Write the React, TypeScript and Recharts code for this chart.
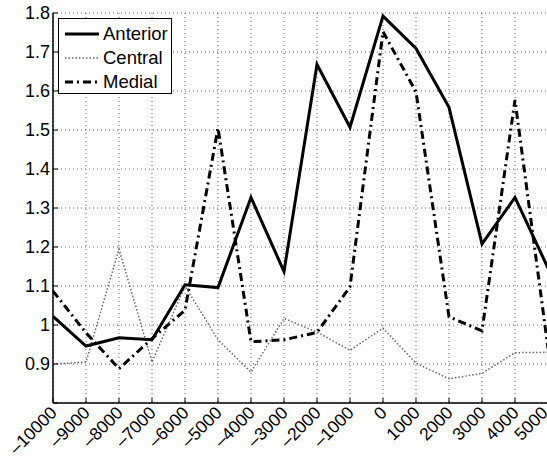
import React from "react";
import { LineChart, Line, XAxis, YAxis, CartesianGrid, Legend } from "recharts";

const positions = [
  -10000, -9000, -8000, -7000, -6000, -5000, -4000, -3000, -2000, -1000, 0, 1000, 2000, 3000, 4000, 5000,
];
const anterior = [1.022, 0.946, 0.967, 0.962, 1.103, 1.096, 1.327, 1.137, 1.668, 1.507, 1.792, 1.709, 1.558, 1.208, 1.327, 1.146];
const central = [0.9, 0.905, 1.195, 0.905, 1.1, 0.962, 0.879, 1.017, 0.982, 0.935, 0.992, 0.902, 0.862, 0.876, 0.929, 0.93];
const medial = [1.087, 0.98, 0.888, 0.965, 1.038, 1.505, 0.957, 0.962, 0.981, 1.098, 1.752, 1.598, 1.021, 0.985, 1.577, 0.94];
const yTicks = [0.8, 0.9, 1.0, 1.1, 1.2, 1.3, 1.4, 1.5, 1.6, 1.7, 1.8];

const data = positions.map((p, i) => ({
  pos: p,
  anterior: anterior[i],
  central: central[i],
  medial: medial[i],
}));

const FONT = "'Liberation Sans', Arial, Helvetica, sans-serif";
const TICK = 5;
const LAST = positions[positions.length - 1];

// MATLAB-style: minus as en dash, labels rotated 45 degrees ending at the tick
const fmtX = (v: number) => (v < 0 ? "\u2013" + Math.abs(v) : String(v));
const fmtY = (v: number) => (Math.abs(v - 1) < 1e-9 ? "1" : v.toFixed(1));

const BottomTick = (props: any) => {
  const { x, y, payload } = props;
  // the rightmost label sits a little inside the frame edge
  const ax = payload.value === LAST ? x - 8 : x - 4;
  return (
    <g>
      <line x1={x} y1={y} x2={x} y2={y - TICK} stroke="#000" strokeWidth={1} />
      <text
        transform={`translate(${ax},${y + 2}) rotate(-45)`}
        textAnchor="end"
        dy="0.72em"
        fontSize={17.5}
        fontFamily={FONT}
        fill="#000"
      >
        {fmtX(payload.value)}
      </text>
    </g>
  );
};

const TopTick = (props: any) => {
  const { x, y } = props;
  return <line x1={x} y1={y} x2={x} y2={y + TICK} stroke="#000" strokeWidth={1} />;
};

const LeftTick = (props: any) => {
  const { x, y, payload } = props;
  return (
    <g>
      <line x1={x} y1={y} x2={x + TICK} y2={y} stroke="#000" strokeWidth={1} />
      {payload.value > 0.85 && (
        <text x={x - 3} y={y} dy="0.36em" textAnchor="end" fontSize={18} fontFamily={FONT} fill="#000">
          {fmtY(payload.value)}
        </text>
      )}
    </g>
  );
};

const RightTick = (props: any) => {
  const { x, y } = props;
  return <line x1={x} y1={y} x2={x - TICK} y2={y} stroke="#000" strokeWidth={1} />;
};

const legendItems = [
  { name: "Anterior", dash: undefined, color: "#000", width: 3 },
  { name: "Central", dash: "1.5 2", color: "#666", width: 1.5 },
  { name: "Medial", dash: "8 4 2 4", color: "#000", width: 3 },
];

const LegendBox = () => (
  <div
    style={{
      width: 114,
      height: 76,
      border: "1px solid #000",
      background: "#fff",
      boxSizing: "border-box",
      fontFamily: FONT,
      fontSize: 18.5,
      color: "#000",
      paddingTop: 3,
    }}
  >
    {legendItems.map((it) => (
      <div key={it.name} style={{ display: "flex", alignItems: "center", height: 24 }}>
        <svg width={40} height={10} style={{ marginLeft: 4 }}>
          <line x1={2} y1={5} x2={36} y2={5} stroke={it.color} strokeWidth={it.width} strokeDasharray={it.dash} />
        </svg>
        <span style={{ lineHeight: "24px" }}>{it.name}</span>
      </div>
    ))}
  </div>
);

export default function App() {
  return (
    <div
      style={{
        position: "absolute",
        left: 0,
        top: 0,
        width: 547,
        height: 460,
        overflow: "hidden",
        background: "#fff",
      }}
    >
      <LineChart width={552} height={460} data={data} margin={{ top: 13, right: 4, bottom: 0, left: 0 }}>
        <CartesianGrid stroke="#666" strokeDasharray="1 3" strokeWidth={1} />
        <XAxis
          dataKey="pos"
          height={57}
          padding={{ left: 0, right: 0 }}
          interval={0}
          tickSize={0}
          tickMargin={0}
          tickLine={false}
          axisLine={{ stroke: "#000", strokeWidth: 1.5 }}
          tick={<BottomTick />}
        />
        <XAxis
          xAxisId="top"
          dataKey="pos"
          orientation="top"
          height={0}
          interval={0}
          tickSize={0}
          tickMargin={0}
          tickLine={false}
          axisLine={{ stroke: "#000", strokeWidth: 1.5 }}
          tick={<TopTick />}
        />
        <YAxis
          type="number"
          domain={[0.8, 1.8]}
          ticks={yTicks}
          width={53}
          interval={0}
          tickSize={0}
          tickMargin={0}
          tickLine={false}
          axisLine={{ stroke: "#000", strokeWidth: 1.5 }}
          tick={<LeftTick />}
        />
        <YAxis
          yAxisId="right"
          orientation="right"
          type="number"
          domain={[0.8, 1.8]}
          ticks={yTicks}
          width={0}
          interval={0}
          tickSize={0}
          tickMargin={0}
          tickLine={false}
          axisLine={{ stroke: "#000", strokeWidth: 1.5 }}
          tick={<RightTick />}
        />
        <Legend
          layout="vertical"
          align="center"
          verticalAlign="middle"
          wrapperStyle={{ position: "absolute", left: 58, top: 18, width: 114 }}
          content={<LegendBox />}
        />
        <Line
          dataKey="central"
          stroke="#666"
          strokeWidth={1.5}
          strokeDasharray="1.5 2"
          dot={false}
          isAnimationActive={false}
        />
        <Line
          dataKey="medial"
          stroke="#000"
          strokeWidth={3}
          strokeDasharray="8 4 2 4"
          dot={false}
          isAnimationActive={false}
        />
        <Line dataKey="anterior" stroke="#000" strokeWidth={3} dot={false} isAnimationActive={false} />
      </LineChart>
    </div>
  );
}
